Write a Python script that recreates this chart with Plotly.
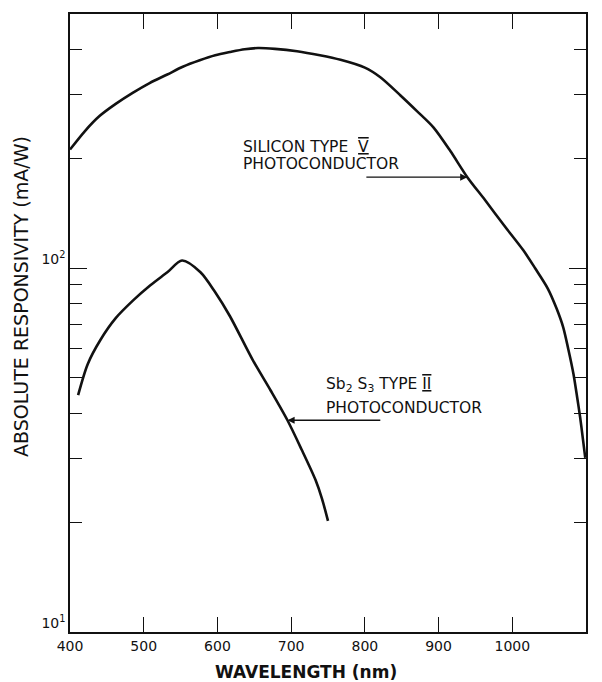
import math
import plotly.graph_objects as go

# Spectral response data (wavelength in nm, responsivity in mA/W)
wavelength_si = [400, 420, 440, 462, 485, 508, 532, 553, 576, 597, 617, 637, 655,
                 678, 708, 739, 767, 800, 821, 848, 871, 893, 916, 939, 963, 989,
                 1015, 1031, 1048, 1060, 1069, 1076, 1083, 1088, 1092, 1096, 1099]
resp_si = [212, 238, 262, 283, 303.5, 323, 341, 358, 373, 385, 393, 400, 403,
           401, 395, 385, 374, 356, 335, 299, 270, 244, 210, 178, 154, 131,
           112, 100, 88.1, 77.6, 68.9, 59.9, 51.2, 44.2, 39.0, 33.7, 30.1]

wavelength_sb = [411, 424, 441, 462, 486, 509, 532, 552, 577, 597, 617, 648,
                 672, 695, 714, 733, 742, 750]
resp_sb = [44.8, 54.5, 63.4, 72.9, 81.7, 89.8, 97.5, 105, 97.5, 85.9, 73.8, 55.9,
           46.2, 38.2, 31.8, 26.2, 23.2, 20.2]

x_ticks = [400, 500, 600, 700, 800, 900, 1000, 1100]
y_major = [10, 100]
y_major_text = ["10<sup>1</sup>", "10<sup>2</sup>"]
y_minor = [20, 30, 40, 50, 60, 70, 80, 90, 200, 300, 400]

W, H = 602, 682
ML, MR, MT, MB = 70, 16, 14, 50
PW, PH = W - ML - MR, H - MT - MB

def paper_x(px):
    return (px - ML) / PW

def paper_y(py):
    return (H - MB - py) / PH

INK = "#111111"
FONT = "DejaVu Sans"

fig = go.Figure()
for xs, ys in [(wavelength_si, resp_si), (wavelength_sb, resp_sb)]:
    fig.add_trace(go.Scatter(
        x=xs, y=ys, mode="lines",
        line=dict(color=INK, width=2.6, shape="spline", smoothing=0.8),
        hoverinfo="skip",
    ))

annotations = []

# axis titles
annotations.append(dict(
    text="ABSOLUTE RESPONSIVITY (mA/W)", xref="paper", yref="paper",
    x=paper_x(21), y=paper_y(297), textangle=-90, showarrow=False,
    xanchor="center", yanchor="middle", font=dict(family=FONT, size=19, color=INK),
))
annotations.append(dict(
    text="<b>WAVELENGTH (nm)</b>", xref="paper", yref="paper",
    x=paper_x(306), y=paper_y(672), showarrow=False,
    xanchor="center", yanchor="middle", font=dict(family=FONT, size=17, color=INK),
))

roman = '<span style="text-decoration:overline underline">{}</span>'
label_font = dict(family=FONT, size=15.5, color=INK)

# curve labels
annotations += [
    dict(text="SILICON TYPE\u00a0\u00a0" + roman.format("V"), xref="paper", yref="paper",
         x=paper_x(242), y=paper_y(147), xanchor="left", yanchor="middle",
         showarrow=False, font=label_font, borderpad=0),
    dict(text="PHOTOCONDUCTOR", xref="paper", yref="paper",
         x=paper_x(242), y=paper_y(164), xanchor="left", yanchor="middle",
         showarrow=False, font=label_font, borderpad=0),
    dict(text="Sb<sub>2</sub> S<sub>3</sub> TYPE " + roman.format("II"), xref="paper", yref="paper",
         x=paper_x(325), y=paper_y(385), xanchor="left", yanchor="middle",
         showarrow=False, font=label_font, borderpad=0),
    dict(text="PHOTOCONDUCTOR", xref="paper", yref="paper",
         x=paper_x(325), y=paper_y(408), xanchor="left", yanchor="middle",
         showarrow=False, font=label_font, borderpad=0),
]

# pointer arrows ending on the curves
si_i = wavelength_si.index(939)
sb_i = wavelength_sb.index(695)
annotations.append(dict(
    x=wavelength_si[si_i], y=math.log10(resp_si[si_i]), xref="x", yref="y",
    ax=800, ay=math.log10(resp_si[si_i]), axref="x", ayref="y",
    text="", showarrow=True, arrowhead=2, arrowsize=1.1, arrowwidth=1.3,
    arrowcolor=INK, standoff=0,
))
annotations.append(dict(
    x=wavelength_sb[sb_i], y=math.log10(resp_sb[sb_i]), xref="x", yref="y",
    ax=823, ay=math.log10(resp_sb[sb_i]), axref="x", ayref="y",
    text="", showarrow=True, arrowhead=2, arrowsize=1.1, arrowwidth=1.3,
    arrowcolor=INK, standoff=0,
))

fig.update_layout(
    width=W, height=H,
    margin=dict(l=ML, r=MR, t=MT, b=MB),
    paper_bgcolor="white", plot_bgcolor="white",
    showlegend=False,
    font=dict(family=FONT, color=INK),
    annotations=annotations,
    xaxis=dict(
        range=[400, 1100], tickvals=x_ticks, ticks="inside", ticklen=15,
        tickwidth=1.4, tickcolor=INK, showline=True, linewidth=1.5,
        linecolor=INK, mirror="allticks", showgrid=False, zeroline=False,
        tickfont=dict(family=FONT, size=14, color=INK),
    ),
    yaxis=dict(
        type="log", range=[1, math.log10(500)], tickvals=y_major,
        ticktext=y_major_text, ticks="inside", ticklen=17, tickwidth=1.4,
        tickcolor=INK, showline=True, linewidth=1.5, linecolor=INK,
        mirror="allticks", showgrid=False, zeroline=False,
        ticklabelshift=-9,
        tickfont=dict(family=FONT, size=14, color=INK),
        minor=dict(tickvals=y_minor, ticks="inside", ticklen=12,
                   tickwidth=1.3, tickcolor=INK, showgrid=False),
    ),
)

fig.write_html("out.html")
